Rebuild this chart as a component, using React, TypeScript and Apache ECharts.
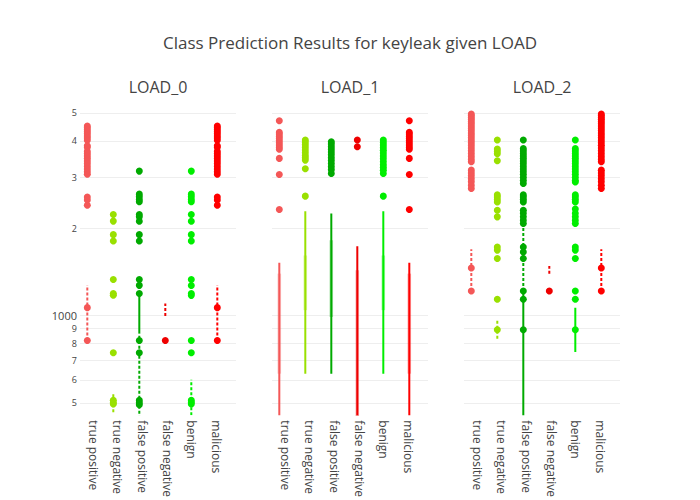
import React, { useEffect, useRef } from "react";
import * as echarts from "echarts";

const categories = ["true positive", "true negative", "false positive", "false negative", "benign", "malicious"];
const loads = ["LOAD_0", "LOAD_1", "LOAD_2"];
const colors = ["#F45757", "#99E000", "#00AA00", "#EE0000", "#00EE00", "#FF0000"];
const gridValues = [500, 600, 700, 800, 900, 1000, 2000, 3000, 4000, 5000];
const gridLabels = ["5", "6", "7", "8", "9", "1000", "2", "3", "4", "5"];

// ---------- LOAD_0 ----------
const load0TpDots = [4500, 4440, 4370, 4300, 4230, 4160, 4090, 4020, 3850, 3800, 3680, 3620, 3550, 3480, 3410, 3340, 3270, 3200, 3130, 3070, 2560, 2500, 2400, 1064, 820];
const load0Dots = [
  load0TpDots,
  [2230, 2115, 1900, 1805, 1330, 1190, 1175, 744, 510, 500, 495],
  [3146, 2620, 2565, 2510, 2465, 2230, 2188, 2114, 1900, 1805, 1330, 1270, 1190, 820, 744, 510, 500, 492],
  [820],
  [3146, 2620, 2565, 2510, 2465, 2230, 2114, 1900, 1805, 1330, 1268, 1190, 1173, 820, 744, 510, 502, 495],
  load0TpDots,
];
const load0Solid = [[], [], [[866, 1190]], [], [], []];
const load0Dashed = [[[820, 1270]], [[464, 540]], [[440, 866]], [[995, 1100]], [[435, 600]], [[820, 1270]]];
const load0Fuzzy = [[], [], [], [], [], []];

// ---------- LOAD_1 ----------
const load1TpDots = [4690, 4280, 4220, 4150, 4080, 4010, 3940, 3870, 3800, 3740, 3480, 3063, 2320];
const load1Dots = [
  load1TpDots,
  [4030, 3960, 3880, 3800, 3720, 3640, 3560, 3500, 3433, 3204, 2579],
  [3970, 3900, 3820, 3740, 3660, 3580, 3500, 3420, 3340, 3260, 3180, 3087],
  [4027, 3815],
  [4027, 3950, 3870, 3790, 3710, 3630, 3550, 3470, 3390, 3310, 3240, 3170, 3087, 2579],
  load1TpDots,
];
const load1Solid = [[[437, 1520]], [[630, 2289]], [[630, 2247]], [[437, 1733]], [[630, 2289]], [[437, 1520]]];
const load1Dashed = [[], [], [], [], [], []];
const load1Fuzzy = [[[630, 1394]], [[1043, 1610]], [[988, 1817]], [[437, 1431]], [[1043, 1610]], [[630, 1394]]];

// ---------- LOAD_2 ----------
const load2TpDots = [4950, 4880, 4810, 4740, 4660, 4580, 4500, 4420, 4340, 4260, 4180, 4100, 4020, 3940, 3860, 3780, 3700, 3620, 3540, 3460, 3390, 3170, 3100, 3030, 2960, 2890, 2810, 2740, 1458, 1215];
const load2Dots = [
  load2TpDots,
  [4027, 3750, 3680, 3610, 3414, 2605, 2560, 2510, 2464, 2306, 2188, 1722, 1680, 1571, 1137, 893],
  [4027, 3760, 3690, 3620, 3550, 3480, 3410, 3340, 3270, 3200, 3130, 3060, 2990, 2920, 2853, 2605, 2560, 2510, 2464, 2306, 2250, 2188, 2130, 2076, 1722, 1655, 1571, 1215, 1137, 893],
  [1215],
  [4027, 3760, 3690, 3620, 3550, 3480, 3410, 3340, 3270, 3200, 3130, 3060, 2990, 2920, 2888, 2605, 2560, 2510, 2464, 2330, 2250, 2188, 2130, 2076, 1722, 1680, 1571, 1215, 1137, 893],
  load2TpDots,
];
const load2Solid = [[], [], [[446, 1215]], [], [[748, 1064]], []];
const load2Dashed = [[[1215, 1692]], [[832, 967]], [[1215, 2076]], [[1394, 1480]], [], [[1215, 1692]]];
const load2Fuzzy = [[], [], [], [], [], []];

const allDots = [load0Dots, load1Dots, load2Dots];
const allSolid = [load0Solid, load1Solid, load2Solid];
const allDashed = [load0Dashed, load1Dashed, load2Dashed];
const allFuzzy = [load0Fuzzy, load1Fuzzy, load2Fuzzy];

const FONT = "'Open Sans', sans-serif";
const gridLefts = [80, 272, 464];
const GRID_W = 156;

export default function App() {
  const ref = useRef<HTMLDivElement>(null);
  useEffect(() => {
    if (!ref.current) return;
    const chart = echarts.init(ref.current, undefined, { renderer: "svg" });

    const grids = gridLefts.map((left) => ({ left, width: GRID_W, top: 100, height: 320 }));
    const xAxes: any[] = [];
    loads.forEach((_, i) => {
      // data axis (positions of the marks)
      xAxes.push({
        type: "value",
        gridIndex: i,
        position: "top",
        min: -0.281,
        max: 5.719,
        axisLine: { show: false },
        axisTick: { show: false },
        splitLine: { show: false },
        axisLabel: { show: false },
      });
      // label axis (category tick labels)
      xAxes.push({
        type: "value",
        gridIndex: i,
        position: "bottom",
        min: -0.541,
        max: 5.8,
        axisLine: { show: false },
        axisTick: { show: false },
        splitLine: { show: false },
        axisLabel: {
          customValues: [0, 1, 2, 3, 4, 5],
          formatter: (v: number) => categories[Math.round(v)] ?? "",
          rotate: -90,
          fontSize: 12,
          color: "#444",
          fontFamily: FONT,
          margin: 6,
        },
      });
    });
    const yAxes = loads.map((_, i) => ({
      type: "log",
      logBase: 10,
      gridIndex: i,
      min: 456,
      max: 5533,
      axisLine: { show: false },
      axisTick: { show: false },
      splitLine: { show: false },
      axisLabel: { show: false },
    }));

    const series: any[] = [];
    loads.forEach((_, L) => {
      const xi = 2 * L;
      series.push({
        type: "line",
        xAxisIndex: xi,
        yAxisIndex: L,
        data: [],
        silent: true,
        markLine: {
          silent: true,
          z: 0,
          symbol: ["none", "none"],
          animation: false,
          lineStyle: { color: "#eee", width: 1, type: "solid" },
          label: {
            show: L === 0,
            position: "start",
            distance: 3,
            color: "#444",
            fontFamily: FONT,
            fontSize: 9,
          },
          emphasis: { disabled: true },
          data: gridValues.map((v, k) => ({
            yAxis: v,
            label: {
              formatter: gridLabels[k],
              fontSize: gridLabels[k] === "1000" ? 11 : 9,
              lineHeight: gridLabels[k] === "1000" ? 11 : 9,
            },
          })),
        },
      });
      categories.forEach((_, c) => {
        const color = colors[c];
        allFuzzy[L][c].forEach((seg: number[]) => {
          series.push({
            type: "line",
            xAxisIndex: xi,
            yAxisIndex: L,
            data: [[c, seg[0]], [c, seg[1]]],
            showSymbol: false,
            silent: true,
            lineStyle: { color, width: 3.5, opacity: 0.35 },
          });
        });
        allSolid[L][c].forEach((seg: number[]) => {
          series.push({
            type: "line",
            xAxisIndex: xi,
            yAxisIndex: L,
            data: [[c, seg[0]], [c, seg[1]]],
            showSymbol: false,
            silent: true,
            lineStyle: { color, width: 2 },
          });
        });
        allDashed[L][c].forEach((seg: number[]) => {
          series.push({
            type: "line",
            xAxisIndex: xi,
            yAxisIndex: L,
            data: [[c, seg[0]], [c, seg[1]]],
            showSymbol: false,
            silent: true,
            lineStyle: { color, width: 2, type: [3, 2] },
          });
        });
        series.push({
          type: "scatter",
          xAxisIndex: xi,
          yAxisIndex: L,
          data: allDots[L][c].map((v) => [c, v]),
          symbolSize: 7,
          silent: true,
          itemStyle: { color, opacity: 1 },
        });
      });
    });

    const titles: any[] = [
      {
        text: "Class Prediction Results for keyleak given LOAD",
        left: "center",
        top: 34,
        padding: 0,
        textStyle: { fontFamily: FONT, fontSize: 17, fontWeight: "normal", color: "#444" },
      },
      ...loads.map((name, i) => ({
        text: name,
        left: gridLefts[i] + GRID_W / 2,
        textAlign: "center",
        top: 79,
        padding: 0,
        textStyle: { fontFamily: FONT, fontSize: 16, fontWeight: "normal", color: "#444" },
      })),
    ];

    chart.setOption({
      animation: false,
      backgroundColor: "#fff",
      title: titles,
      grid: grids,
      xAxis: xAxes,
      yAxis: yAxes,
      series,
    });
    return () => chart.dispose();
  }, []);
  return <div ref={ref} style={{ width: 700, height: 500, position: "absolute", left: 0, top: 0 }} />;
}
